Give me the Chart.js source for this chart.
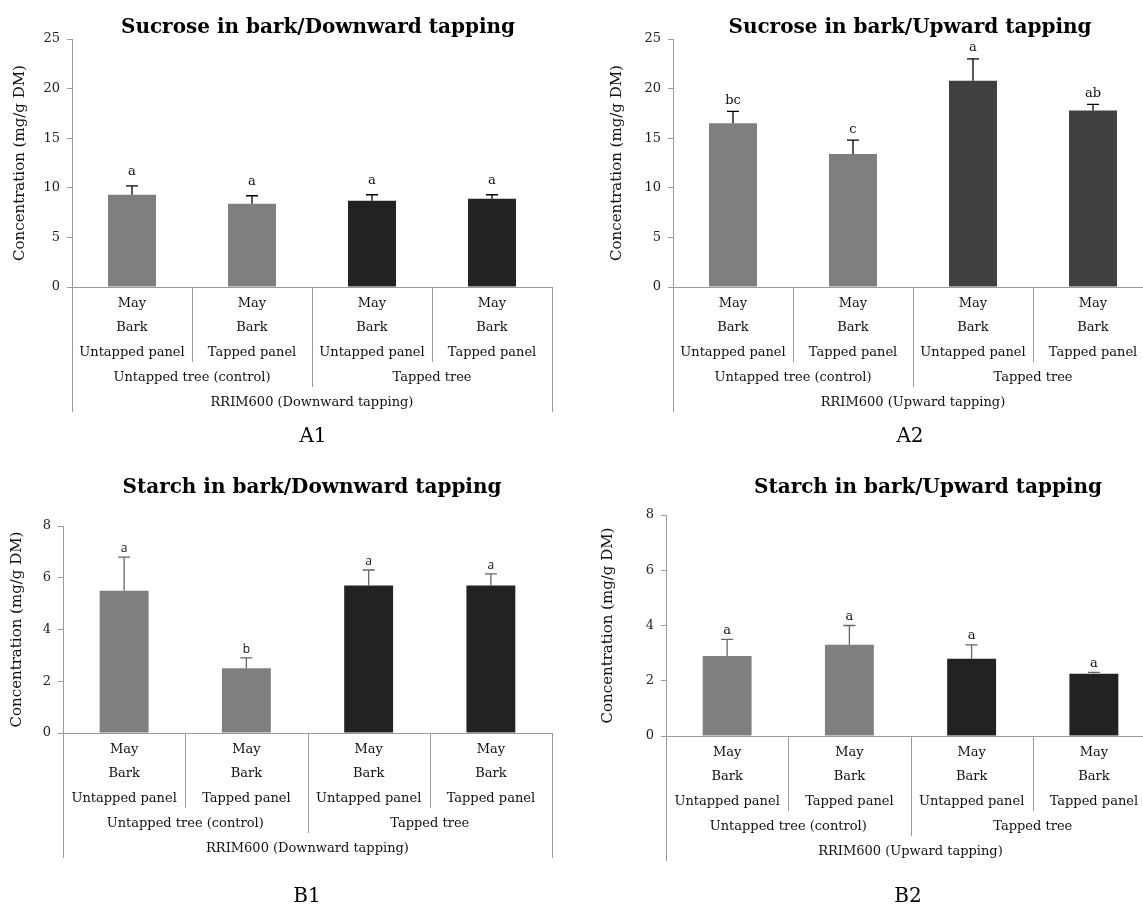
<!DOCTYPE html>
<html>
<head>
<meta charset="utf-8">
<script src="https://cdn.jsdelivr.net/npm/chart.js@4.4.1/dist/chart.umd.min.js"></script>
<style>
  html, body { margin: 0; padding: 0; background: #fff; overflow: hidden; width: 1143px; height: 908px; }
  canvas { position: absolute; }
</style>
</head>
<body>
<canvas id="a1" width="571" height="454" style="left:0;top:0"></canvas>
<canvas id="a2" width="600" height="454" style="left:571px;top:0"></canvas>
<canvas id="b1" width="571" height="454" style="left:0;top:454px"></canvas>
<canvas id="b2" width="600" height="454" style="left:571px;top:454px"></canvas>
<script>
// categories (three label rows per bar) and the two grouping rows below
const categories = [
  ['May', 'Bark', 'Untapped panel'],
  ['May', 'Bark', 'Tapped panel'],
  ['May', 'Bark', 'Untapped panel'],
  ['May', 'Bark', 'Tapped panel']
];
const treeGroups = ['Untapped tree (control)', 'Tapped tree'];
const cloneDown = 'RRIM600 (Downward tapping)';
const cloneUp = 'RRIM600 (Upward tapping)';

// sucrose, mg/g DM
const sucroseDown = [9.3, 8.4, 8.7, 8.9];
const sucroseDownErr = [0.9, 0.8, 0.6, 0.4];
const sucroseDownLetters = ['a', 'a', 'a', 'a'];
const sucroseUp = [16.5, 13.4, 20.8, 17.8];
const sucroseUpErr = [1.2, 1.4, 2.2, 0.6];
const sucroseUpLetters = ['bc', 'c', 'a', 'ab'];

// starch, mg/g DM
const starchDown = [5.5, 2.5, 5.7, 5.7];
const starchDownErr = [1.3, 0.4, 0.6, 0.45];
const starchDownLetters = ['a', 'b', 'a', 'a'];
const starchUp = [2.9, 3.3, 2.8, 2.25];
const starchUpErr = [0.6, 0.7, 0.5, 0.05];
const starchUpLetters = ['a', 'a', 'a', 'a'];

// y axis ranges
const sucroseMax = 25, sucroseStep = 5;
const starchMax = 8, starchStep = 2;

const SERIF = '"DejaVu Serif", serif';
const LINE = '#9a9a9a';

const decor = {
  id: 'decor',
  afterDatasetsDraw(chart, args, o) {
    const ctx = chart.ctx;
    const x = chart.scales.x, y = chart.scales.y;
    const area = chart.chartArea;
    const vals = chart.data.datasets[0].data;
    ctx.save();

    // error bars + letters
    ctx.strokeStyle = o.errColor;
    ctx.lineWidth = 1.3;
    ctx.fillStyle = '#111';
    ctx.font = o.letterFont;
    ctx.textAlign = 'center';
    ctx.textBaseline = 'middle';
    vals.forEach((v, i) => {
      const px = x.getPixelForValue(i);
      const y0 = y.getPixelForValue(v);
      const y1 = y.getPixelForValue(v + o.errors[i]);
      ctx.beginPath();
      ctx.moveTo(px, y0);
      ctx.lineTo(px, y1);
      ctx.moveTo(px - 6, y1);
      ctx.lineTo(px + 6, y1);
      ctx.stroke();
      ctx.fillText(o.letters[i], px, y1 - o.letterGap);
    });

    // separators of the multi-level axis
    const bot = area.bottom;
    const mid = i => (x.getPixelForValue(i) + x.getPixelForValue(i + 1)) / 2;
    ctx.strokeStyle = LINE;
    ctx.lineWidth = 1;
    ctx.beginPath();
    [0, 2].forEach(i => { const m = Math.round(mid(i)) + 0.5; ctx.moveTo(m, bot); ctx.lineTo(m, bot + 75); });
    const g = Math.round(mid(1)) + 0.5;
    ctx.moveTo(g, bot); ctx.lineTo(g, bot + 100);
    [area.left, area.right].forEach(e => { const m = Math.round(e) + 0.5; ctx.moveTo(m, bot); ctx.lineTo(m, bot + 125); });
    ctx.stroke();

    // group rows
    ctx.fillStyle = '#111';
    ctx.font = '13px ' + SERIF;
    ctx.fillText(o.groups[0], (x.getPixelForValue(0) + x.getPixelForValue(1)) / 2, bot + 91);
    ctx.fillText(o.groups[1], (x.getPixelForValue(2) + x.getPixelForValue(3)) / 2, bot + 91);
    ctx.fillText(o.clone, (area.left + area.right) / 2, bot + 116);

    // title and panel label
    ctx.font = 'bold 20px ' + SERIF;
    ctx.fillStyle = '#000';
    ctx.fillText(o.title, o.titleX, o.titleY);
    ctx.font = '20px ' + SERIF;
    ctx.fillText(o.panel, o.panelX, o.panelY);
    ctx.restore();
  }
};

function makeChart(id, c) {
  return new Chart(document.getElementById(id), {
    type: 'bar',
    data: {
      labels: categories,
      datasets: [{
        data: c.values,
        backgroundColor: c.colors,
        borderWidth: 0,
        barPercentage: 0.4,
        categoryPercentage: 1.0
      }]
    },
    options: {
      responsive: false,
      animation: false,
      layout: { padding: { left: c.padLeft, top: c.top, right: c.padRight, bottom: 0 } },
      plugins: {
        legend: { display: false },
        tooltip: { enabled: false },
        decor: {
          errors: c.errors, letters: c.letters, letterGap: c.letterGap,
          letterFont: c.letterFont, errColor: c.errColor,
          groups: treeGroups, clone: c.clone,
          title: c.title, titleX: c.titleX, titleY: c.titleY,
          panel: c.panel, panelX: c.panelX, panelY: c.panelY
        }
      },
      scales: {
        x: {
          type: 'category',
          offset: true,
          grid: { display: false },
          border: { display: true, color: LINE, width: 1 },
          ticks: {
            autoSkip: false, maxRotation: 0, minRotation: 0, padding: -4,
            color: '#111',
            font: { family: SERIF, size: 13, lineHeight: 24.7 / 13 }
          },
          afterFit: s => { s.height = c.xHeight; }
        },
        y: {
          min: 0, max: c.max,
          ticks: {
            stepSize: c.step, padding: 7, color: '#222',
            font: { family: SERIF, size: 13 }
          },
          grid: { drawOnChartArea: false, drawTicks: true, tickLength: 5, color: LINE },
          border: { display: true, color: LINE, width: 1 },
          title: {
            display: true, text: 'Concentration (mg/g DM)', color: '#111', padding: 0,
            font: { family: SERIF, size: 15, lineHeight: 1.2 }
          },
          afterFit: s => { s.width = c.yWidth; }
        }
      }
    },
    plugins: [decor]
  });
}

const grey = '#7f7f7f';

makeChart('a1', {
  values: sucroseDown, errors: sucroseDownErr, letters: sucroseDownLetters,
  colors: [grey, grey, '#222222', '#222222'],
  max: sucroseMax, step: sucroseStep,
  padLeft: 11, yWidth: 61, padRight: 19, top: 39, xHeight: 167,
  letterGap: 14, letterFont: '13px ' + SERIF, errColor: '#000',
  clone: cloneDown, title: 'Sucrose in bark/Downward tapping', titleX: 318, titleY: 28,
  panel: 'A1', panelX: 313, panelY: 437
});

makeChart('a2', {
  values: sucroseUp, errors: sucroseUpErr, letters: sucroseUpLetters,
  colors: [grey, grey, '#404040', '#404040'],
  max: sucroseMax, step: sucroseStep,
  padLeft: 37, yWidth: 65, padRight: 18, top: 39, xHeight: 167,
  letterGap: 11, letterFont: '13px ' + SERIF, errColor: '#000',
  clone: cloneUp, title: 'Sucrose in bark/Upward tapping', titleX: 339, titleY: 28,
  panel: 'A2', panelX: 339, panelY: 437
});

makeChart('b1', {
  values: starchDown, errors: starchDownErr, letters: starchDownLetters,
  colors: [grey, grey, '#222222', '#222222'],
  max: starchMax, step: starchStep,
  padLeft: 8, yWidth: 55, padRight: 19, top: 72, xHeight: 175,
  letterGap: 8, letterFont: '12px "Open Sans", sans-serif', errColor: '#666',
  clone: cloneDown, title: 'Starch in bark/Downward tapping', titleX: 312, titleY: 34,
  panel: 'B1', panelX: 307, panelY: 443
});

makeChart('b2', {
  values: starchUp, errors: starchUpErr, letters: starchUpLetters,
  colors: [grey, grey, '#222222', '#222222'],
  max: starchMax, step: starchStep,
  padLeft: 28, yWidth: 67, padRight: 16, top: 61, xHeight: 172,
  letterGap: 9, letterFont: '13px ' + SERIF, errColor: '#666',
  clone: cloneUp, title: 'Starch in bark/Upward tapping', titleX: 357, titleY: 34,
  panel: 'B2', panelX: 337, panelY: 443
});
</script>
</body>
</html>
